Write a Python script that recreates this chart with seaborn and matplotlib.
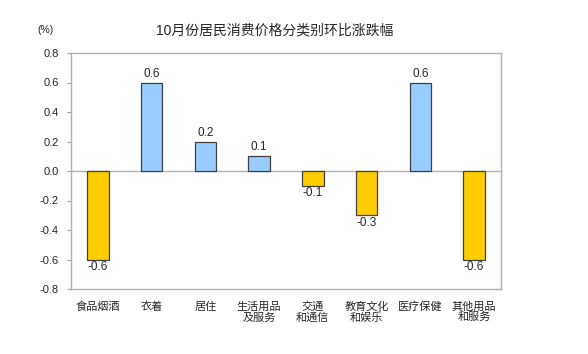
import numpy as np
import pandas as pd
import seaborn as sns
import matplotlib.pyplot as plt

# Chart data
categories = ["食品烟酒", "衣着", "居住", "生活用品\n及服务", "交通\n和通信",
              "教育文化\n和娱乐", "医疗保健", "其他用品\n和服务"]
values = [-0.6, 0.6, 0.2, 0.1, -0.1, -0.3, 0.6, -0.6]
y_ticks = [-0.8, -0.6, -0.4, -0.2, 0.0, 0.2, 0.4, 0.6, 0.8]

sns.set_style("white")
plt.rcParams["font.family"] = ["Liberation Sans", "Noto Sans CJK SC", "DejaVu Sans"]

df = pd.DataFrame({"cat": categories, "val": values})
df["sign"] = np.where(df["val"] >= 0, "up", "down")

fig = plt.figure(figsize=(5.88, 3.54), dpi=100)
ax = fig.add_axes([71 / 588, 1 - 289 / 354, 430 / 588, 236 / 354])

sns.barplot(data=df, x="cat", y="val", hue="sign",
            palette={"up": "#99CCFF", "down": "#FFCC00"}, saturation=1,
            dodge=False, width=0.4, edgecolor="#404040", linewidth=0.9,
            legend=False, ax=ax)

ax.set_ylim(-0.8, 0.8)
ax.set_xlim(-0.5, len(categories) - 0.5)
ax.set_yticks(y_ticks)
ax.set_yticklabels([f"{t:.1f}" for t in y_ticks], fontsize=8)
ax.set_xlabel("")
ax.set_ylabel("")
ax.tick_params(axis="x", length=0, labelsize=8, pad=9)
ax.tick_params(axis="y", left=True, length=3, width=0.8, color="#A0A0A0", pad=6)
for lab in ax.get_xticklabels():
    lab.set_linespacing(1.05)

for s in ax.spines.values():
    s.set_color("#B0B0B0")
    s.set_linewidth(1.0)
ax.axhline(0, color="#B0B0B0", linewidth=1.0, zorder=0.5)

# value labels
for i, v in enumerate(values):
    if v >= 0:
        ax.annotate(f"{v:.1f}", (i, v), xytext=(0, 2), textcoords="offset points",
                    ha="center", va="bottom", fontsize=8.5)
    else:
        ax.annotate(f"{v:.1f}", (i, v), xytext=(0, -1), textcoords="offset points",
                    ha="center", va="top", fontsize=8.5)

fig.text(274.5 / 588, 1 - 30 / 354, "10月份居民消费价格分类别环比涨跌幅",
         ha="center", va="center", fontsize=10)
fig.text(46 / 588, 1 - 30 / 354, "(%)", ha="center", va="center", fontsize=7.5)

fig.savefig("out.png", dpi=100)
